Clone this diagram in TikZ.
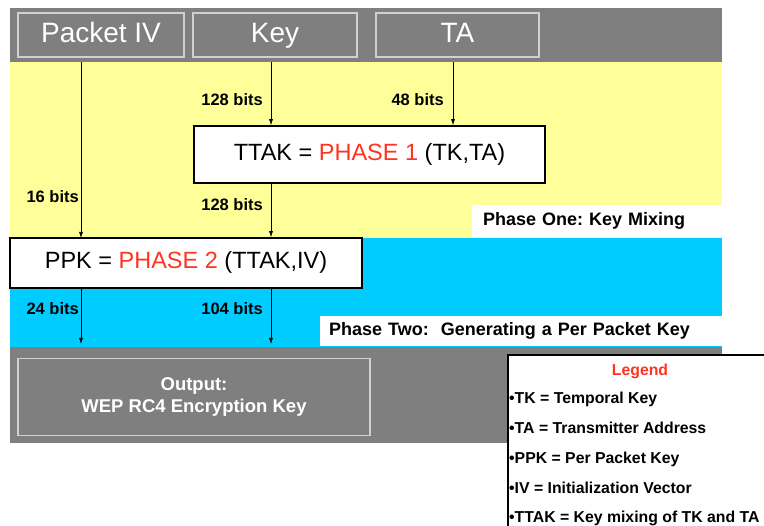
\documentclass[tikz,border=0pt]{standalone}
\usepackage{fontspec}
\setmainfont{Liberation Sans}
\usetikzlibrary{arrows.meta}
\definecolor{bandgray}{HTML}{7F7F7F}
\definecolor{ylw}{HTML}{FFFF99}
\definecolor{cyn}{HTML}{00CCFF}
\definecolor{phred}{HTML}{FF3322}
\definecolor{lite}{HTML}{D0D0D0}
\frenchspacing
\tikzset{
  topbox/.style={draw=lite, line width=1.2pt, fill=bandgray, minimum height=44pt, text=white, font=\fontsize{28}{30}\selectfont, inner sep=0pt, text height=20pt, text depth=5pt},
  phasebox/.style={draw=black, line width=1.6pt, fill=white, inner sep=0pt, font=\fontsize{23.5}{26}\selectfont, text height=17pt, text depth=5pt},
  bits/.style={font=\bfseries\fontsize{16.5}{18}\selectfont, inner sep=0pt},
  flow/.style={-{Latex[length=6pt,width=4pt]}, line width=0.6pt},
  note/.style={fill=white, inner ysep=0pt, align=left, font=\bfseries\fontsize{18}{20}\selectfont},
  leg/.style={font=\bfseries\fontsize{15.8}{18}\selectfont, inner sep=0pt, anchor=base west}
}
\begin{document}
\begin{tikzpicture}[x=1pt,y=-1pt]
\useasboundingbox (0,0) rectangle (764,526);
\fill[white] (0,0) rectangle (764,526);
% bands
\fill[bandgray] (10,8) rectangle (722,62);
\fill[ylw] (10,62) rectangle (722,238);
\fill[cyn] (10,238) rectangle (722,347);
\fill[bandgray] (10,347) rectangle (722,443);
% top boxes
\node[topbox, minimum width=166pt] (iv) at (101,35) {Packet IV};
\node[topbox, minimum width=164pt] (key) at (275,35) {Key};
\node[topbox, minimum width=163pt] (ta) at (457.5,35) {TA};
% phase 1
\node[phasebox, minimum width=351pt, minimum height=57pt] (p1) at (369.5,154.5) {TTAK = \textcolor{phred}{PHASE 1} (TK,TA)};
\node[note, inner xsep=11pt, text width=228pt, minimum height=32pt, anchor=north west] (n1) at (472,205) {Phase One: Key Mixing};
% phase 2
\node[phasebox, minimum width=352pt, minimum height=50pt] (p2) at (186,263) {PPK = \textcolor{phred}{PHASE 2} (TTAK,IV)};
\node[note, inner xsep=9pt, text width=384pt, minimum height=30pt, anchor=north west] (n2) at (320,316) {Phase Two:\ \ Generating a Per Packet Key};
% output
\node[draw=lite, line width=1.2pt, fill=bandgray, minimum width=352pt, minimum height=77pt, text=white, align=center, font=\bfseries\fontsize{18.5}{22}\selectfont, inner sep=0pt] (out) at (194,397) {Output:\\WEP RC4 Encryption Key};
% connectors
\coordinate (ivtop) at (81,62);
\coordinate (keytop) at (271,62);
\coordinate (tatop) at (453,62);
\draw[flow] (ivtop) -- (81,238);
\draw[flow] (keytop) -- (keytop |- p1.north);
\draw[flow] (tatop) -- (tatop |- p1.north);
\draw[flow] (p1.south -| keytop) -- (keytop |- p2.north);
\coordinate (o1) at (81,344);
\coordinate (o2) at (271,344);
\draw[flow] (p2.south -| o1) -- (o1);
\draw[flow] (p2.south -| o2) -- (o2);
% bit labels
\node[bits, anchor=east] (b1) at (263,100) {128 bits};
\node[bits, anchor=east] (b2) at (444,100) {48 bits};
\node[bits, anchor=east] (b3) at (79,197) {16 bits};
\node[bits, anchor=east] (b4) at (263,205) {128 bits};
\node[bits, anchor=east] (b5) at (79,309) {24 bits};
\node[bits, anchor=east] (b6) at (263,309) {104 bits};
% legend
\draw[line width=1.5pt, fill=white] (508,355) rectangle (780,540);
\node[font=\bfseries\fontsize{15.8}{18}\selectfont, text=phred, inner sep=0pt] (lg) at (640,371) {Legend};
\node[leg] (l1) at (509,404) {\textbullet TK = Temporal Key};
\node[leg] (l2) at (509,434) {\textbullet TA = Transmitter Address};
\node[leg] (l3) at (509,464) {\textbullet PPK = Per Packet Key};
\node[leg] (l4) at (509,494) {\textbullet IV = Initialization Vector};
\node[leg] (l5) at (509,523) {\textbullet TTAK = Key mixing of TK and TA};
\end{tikzpicture}
\end{document}
